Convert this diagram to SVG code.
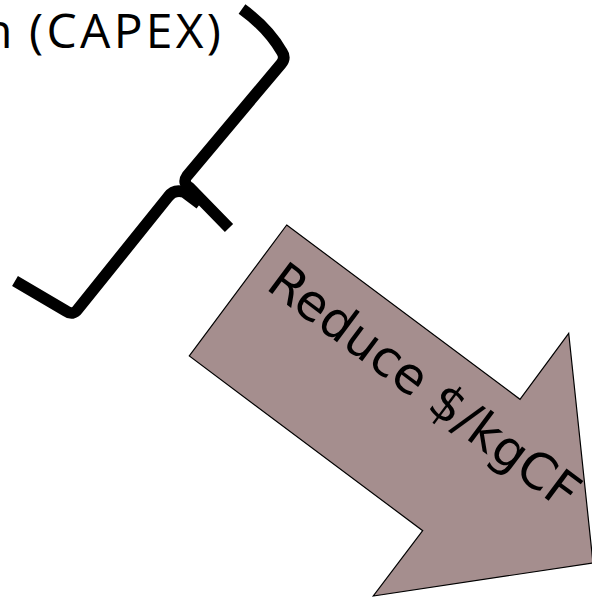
<svg xmlns="http://www.w3.org/2000/svg" width="592" height="599" viewBox="0 0 592 599">
<style>
.brace{fill:none;stroke:#000;stroke-width:11.5;stroke-linejoin:round;stroke-linecap:butt}
.lbl{font-family:"Open Sans","Noto Sans",sans-serif;font-size:48px;fill:#000}
.arrowtxt{font-family:"DejaVu Sans",sans-serif;font-size:50px;fill:#000}
</style>
<rect width="592" height="599" fill="#fff"/>
<g id="capex-label">
<text class="lbl" y="47.5"><tspan x="-17">n</tspan><tspan x="29" textLength="192" lengthAdjust="spacing">(CAPEX)</tspan></text>
</g>
<g id="brace">
<path class="brace" d="M 242 9 C 260 22 274 38 282 52 Q 286 58 281 64 L 187 176 Q 182 183 190 188 L 229 228"/>
<path class="brace" d="M 15 281 L 66 311 Q 73 316 78 309 L 168 197 Q 174 189 184 192 L 200 204"/>
</g>
<g id="reduce-arrow">
<polygon points="286.7,225 520,399.3 568.7,333.3 593,563 373.3,596 422.7,530.7 189.3,356" fill="#a58e8e" stroke="#000" stroke-width="1.2"/>
<text class="arrowtxt" transform="translate(264.5,288) rotate(36.8)">Reduce $/kgCF</text>
</g>
</svg>
